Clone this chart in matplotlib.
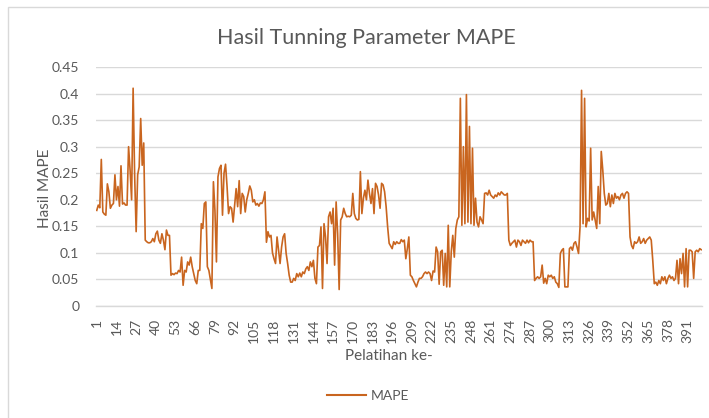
import matplotlib
matplotlib.use('Agg')
import matplotlib.pyplot as plt
from matplotlib.patches import Rectangle
from matplotlib.lines import Line2D

plt.rcParams['font.family'] = ['Lato', 'DejaVu Sans']

# MAPE values, 20 per block
mape_001_020 = [0.18, 0.19, 0.185, 0.276, 0.177, 0.173, 0.171, 0.23, 0.215, 0.184,
                0.19, 0.193, 0.247, 0.2, 0.225, 0.188, 0.264, 0.192, 0.194, 0.19]
mape_021_040 = [0.19, 0.3, 0.256, 0.2, 0.41, 0.247, 0.14, 0.247, 0.262, 0.353,
                0.265, 0.307, 0.124, 0.121, 0.119, 0.119, 0.121, 0.127, 0.121, 0.136]
mape_041_060 = [0.141, 0.124, 0.118, 0.136, 0.124, 0.106, 0.143, 0.133, 0.133, 0.058,
                0.061, 0.059, 0.062, 0.061, 0.067, 0.064, 0.092, 0.039, 0.067, 0.064]
mape_061_080 = [0.083, 0.077, 0.092, 0.074, 0.061, 0.048, 0.042, 0.067, 0.067, 0.155,
                0.146, 0.193, 0.196, 0.074, 0.067, 0.05, 0.033, 0.234, 0.18, 0.083]
mape_081_100 = [0.243, 0.259, 0.265, 0.171, 0.25, 0.267, 0.225, 0.174, 0.187, 0.184,
                0.158, 0.19, 0.221, 0.187, 0.236, 0.174, 0.212, 0.206, 0.177, 0.2]
mape_101_120 = [0.212, 0.226, 0.218, 0.196, 0.2, 0.19, 0.193, 0.188, 0.194, 0.193,
                0.2, 0.215, 0.12, 0.14, 0.13, 0.133, 0.1, 0.089, 0.08, 0.13]
mape_121_140 = [0.105, 0.08, 0.111, 0.13, 0.136, 0.099, 0.08, 0.058, 0.045, 0.045,
                0.052, 0.048, 0.061, 0.055, 0.062, 0.055, 0.064, 0.061, 0.07, 0.074]
mape_141_160 = [0.067, 0.083, 0.074, 0.086, 0.052, 0.042, 0.111, 0.114, 0.149, 0.033,
                0.155, 0.13, 0.08, 0.168, 0.177, 0.155, 0.184, 0.077, 0.196, 0.136]
mape_161_180 = [0.031, 0.162, 0.168, 0.184, 0.174, 0.168, 0.169, 0.168, 0.171, 0.212,
                0.174, 0.165, 0.162, 0.163, 0.253, 0.174, 0.203, 0.218, 0.2, 0.237]
mape_181_200 = [0.212, 0.193, 0.221, 0.174, 0.231, 0.225, 0.209, 0.184, 0.231, 0.228,
                0.215, 0.187, 0.149, 0.118, 0.113, 0.108, 0.121, 0.116, 0.121, 0.118]
mape_201_220 = [0.118, 0.125, 0.121, 0.124, 0.089, 0.108, 0.13, 0.058, 0.055, 0.048,
                0.042, 0.036, 0.045, 0.052, 0.052, 0.055, 0.061, 0.064, 0.061, 0.064]
mape_221_240 = [0.061, 0.048, 0.066, 0.064, 0.111, 0.102, 0.041, 0.102, 0.105, 0.039,
                0.099, 0.036, 0.152, 0.036, 0.102, 0.133, 0.092, 0.146, 0.162, 0.168]
mape_241_260 = [0.391, 0.152, 0.3, 0.155, 0.398, 0.158, 0.338, 0.155, 0.297, 0.152,
                0.203, 0.158, 0.149, 0.168, 0.162, 0.155, 0.212, 0.213, 0.209, 0.218]
mape_261_280 = [0.209, 0.206, 0.203, 0.209, 0.206, 0.213, 0.209, 0.215, 0.212, 0.209,
                0.209, 0.212, 0.124, 0.114, 0.118, 0.121, 0.124, 0.111, 0.124, 0.121]
mape_281_300 = [0.114, 0.124, 0.121, 0.118, 0.124, 0.119, 0.124, 0.121, 0.121, 0.048,
                0.052, 0.055, 0.052, 0.055, 0.077, 0.043, 0.052, 0.042, 0.058, 0.055]
mape_301_320 = [0.058, 0.052, 0.055, 0.045, 0.042, 0.035, 0.099, 0.105, 0.108, 0.036,
                0.036, 0.036, 0.108, 0.111, 0.105, 0.118, 0.121, 0.111, 0.099, 0.149]
mape_321_340 = [0.406, 0.155, 0.391, 0.149, 0.165, 0.16, 0.297, 0.162, 0.177, 0.162,
                0.146, 0.225, 0.155, 0.291, 0.256, 0.212, 0.19, 0.193, 0.212, 0.187]
mape_341_360 = [0.209, 0.193, 0.212, 0.203, 0.206, 0.2, 0.209, 0.212, 0.203, 0.212,
                0.215, 0.212, 0.13, 0.114, 0.108, 0.121, 0.118, 0.121, 0.13, 0.118]
mape_361_380 = [0.121, 0.127, 0.118, 0.124, 0.127, 0.13, 0.124, 0.086, 0.042, 0.045,
                0.039, 0.048, 0.042, 0.055, 0.048, 0.055, 0.042, 0.052, 0.058, 0.052]
mape_381_400 = [0.055, 0.048, 0.052, 0.086, 0.042, 0.089, 0.061, 0.099, 0.036, 0.108,
                0.036, 0.105, 0.105, 0.102, 0.052, 0.102, 0.105, 0.102, 0.108, 0.106]

mape = (mape_001_020 + mape_021_040 + mape_041_060 + mape_061_080 + mape_081_100 +
        mape_101_120 + mape_121_140 + mape_141_160 + mape_161_180 + mape_181_200 +
        mape_201_220 + mape_221_240 + mape_241_260 + mape_261_280 + mape_281_300 +
        mape_301_320 + mape_321_340 + mape_341_360 + mape_361_380 + mape_381_400)
pelatihan = list(range(1, len(mape) + 1))

x_tick_labels = list(range(1, 392, 13))
y_ticks = [0, 0.05, 0.1, 0.15, 0.2, 0.25, 0.3, 0.35, 0.4, 0.45]
y_tick_labels = ['0', '0.05', '0.1', '0.15', '0.2', '0.25', '0.3', '0.35', '0.4', '0.45']

title = 'Hasil Tunning Parameter MAPE'
x_label = 'Pelatihan ke-'
y_label = 'Hasil MAPE'
series_name = 'MAPE'

W, H = 709, 418
text_color = '#595959'
line_color = '#C9651F'
grid_color = '#D9D9D9'

fig = plt.figure(figsize=(W / 100, H / 100), dpi=100)
fig.patch.set_facecolor('white')

# outer chart border
fig.patches.append(Rectangle((8 / W, -0.05), 1.1, 1 - 7 / H + 0.05, fill=False,
                             edgecolor=grid_color, linewidth=1.0,
                             transform=fig.transFigure, figure=fig))

ax = fig.add_axes([96 / W, 1 - 306 / H, (702 - 96) / W, (306 - 67) / H])
ax.plot(pelatihan, mape, color=line_color, linewidth=1.2, solid_joinstyle='round')
ax.set_xlim(0.5, len(mape) + 0.5)
ax.set_ylim(0, 0.45)

ax.set_yticks(y_ticks)
ax.set_yticklabels(y_tick_labels, fontsize=10, color=text_color)
ax.set_xticks(x_tick_labels)
ax.set_xticklabels([str(v) for v in x_tick_labels], rotation=90, fontsize=10,
                   color=text_color)
ax.tick_params(axis='both', length=0)
ax.tick_params(axis='x', pad=9)
ax.tick_params(axis='y', pad=12)

ax.grid(axis='y', color=grid_color, linewidth=1.0)
ax.set_axisbelow(True)
for side in ['top', 'right', 'left']:
    ax.spines[side].set_visible(False)
ax.spines['bottom'].set_color(grid_color)
ax.spines['bottom'].set_linewidth(1.0)

fig.text(366 / W, 1 - 38 / H, title, ha='center', va='center', fontsize=15.5,
         color=text_color)
fig.text(389 / W, 1 - 356 / H, x_label, ha='center', va='center', fontsize=11,
         color=text_color)
fig.text(45 / W, 1 - 188 / H, y_label, ha='center', va='center', rotation=90,
         fontsize=11, color=text_color)

handle = Line2D([], [], color=line_color, linewidth=1.5)
fig.legend([handle], [series_name], loc='center', bbox_to_anchor=(368 / W, 1 - 396 / H),
           frameon=False, fontsize=10, handlelength=2.8, handletextpad=0.3,
           labelcolor=text_color)

fig.savefig('out.png', dpi=100, facecolor='white')
